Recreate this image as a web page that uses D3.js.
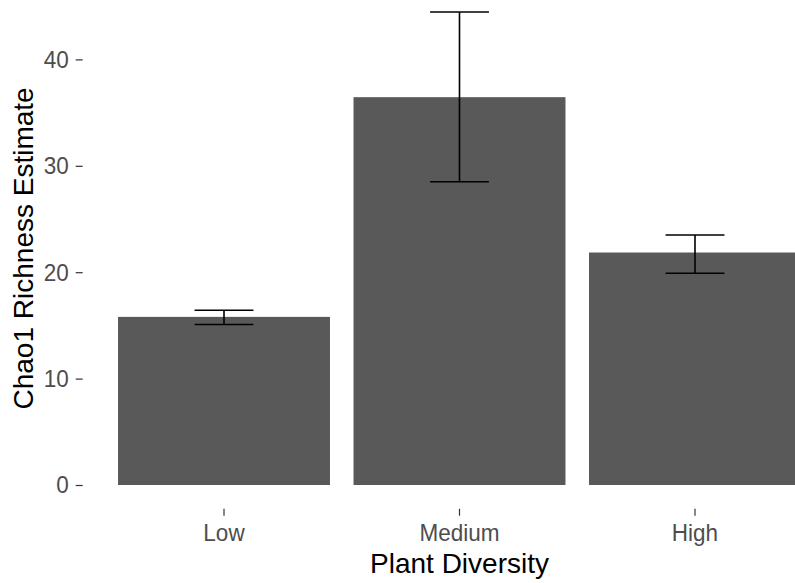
<!DOCTYPE html>
<html>
<head>
<meta charset="utf-8">
<script src="https://cdn.jsdelivr.net/npm/d3@7"></script>
<style>
  html, body { margin: 0; padding: 0; background: #fff; }
  svg { display: block; font-family: "Liberation Sans", Arial, sans-serif; }
</style>
</head>
<body>
<svg id="chart" width="795" height="583"></svg>
<script>
const categories = ["Low", "Medium", "High"];
const means = [15.8, 36.45, 21.85];
const lower = [15.08, 28.5, 19.9];
const upper = [16.42, 44.45, 23.5];
const yTicks = [0, 10, 20, 30, 40];
const xTitle = "Plant Diversity";
const yTitle = "Chao1 Richness Estimate";

const svg = d3.select("#chart");

const x = d3.scaleBand()
  .domain(categories)
  .range([82.7, 836.3])
  .paddingInner(0.1)
  .paddingOuter(0.15);

const y = d3.scaleLinear()
  .domain([0, 40])
  .range([485, 59.4]);

const panelBottom = y(-2.23);

const data = categories.map((c, i) => ({ c, m: means[i], lo: lower[i], hi: upper[i] }));

// bars
svg.append("g").selectAll("rect")
  .data(data).join("rect")
  .attr("x", d => x(d.c))
  .attr("width", x.bandwidth())
  .attr("y", d => y(d.m))
  .attr("height", d => y(0) - y(d.m))
  .attr("fill", "#595959");

// error bars
const capW = x.step() * 0.25;
const eb = svg.append("g").attr("stroke", "#000").attr("stroke-width", 1.6).attr("fill", "none");
data.forEach(d => {
  const cx = x(d.c) + x.bandwidth() / 2;
  eb.append("line").attr("x1", cx).attr("x2", cx).attr("y1", y(d.hi)).attr("y2", y(d.lo));
  eb.append("line").attr("x1", cx - capW / 2).attr("x2", cx + capW / 2).attr("y1", y(d.hi)).attr("y2", y(d.hi));
  eb.append("line").attr("x1", cx - capW / 2).attr("x2", cx + capW / 2).attr("y1", y(d.lo)).attr("y2", y(d.lo));
});

function narrow(sel, baseSize, bigSize) {
  sel.attr("font-size", baseSize).each(function () {
    const w = this.getComputedTextLength();
    d3.select(this).attr("font-size", bigSize)
      .attr("textLength", w).attr("lengthAdjust", "spacingAndGlyphs");
  });
}

// y axis
const yAxis = d3.axisLeft(y).tickValues(yTicks).tickSize(7).tickPadding(7);
const gy = svg.append("g").attr("transform", `translate(${x.range()[0]},0)`).call(yAxis);
gy.select(".domain").remove();
gy.selectAll(".tick line").attr("stroke", "#333").attr("stroke-width", 1.2);
gy.selectAll(".tick text").attr("fill", "#4d4d4d")
  .attr("font-family", "'Liberation Sans', Arial, sans-serif");
narrow(gy.selectAll(".tick text"), 22.5, 24.5);

// x axis
const xAxis = d3.axisBottom(x).tickSize(7).tickPadding(8);
const gx = svg.append("g").attr("transform", `translate(0,${panelBottom})`).call(xAxis);
gx.select(".domain").remove();
gx.selectAll(".tick line").attr("stroke", "#333").attr("stroke-width", 1.2);
gx.selectAll(".tick text").attr("fill", "#4d4d4d")
  .attr("font-family", "'Liberation Sans', Arial, sans-serif");
narrow(gx.selectAll(".tick text"), 22.5, 24.5);

// titles
svg.append("text")
  .attr("x", (x.range()[0] + x.range()[1]) / 2)
  .attr("y", 573)
  .attr("text-anchor", "middle")
  .attr("font-size", 28)
  .attr("fill", "#000")
  .text(xTitle);

svg.append("text")
  .attr("transform", `translate(33,${(y(-2.23) + y(46.7)) / 2}) rotate(-90)`)
  .attr("text-anchor", "middle")
  .attr("font-size", 28)
  .attr("fill", "#000")
  .text(yTitle);
</script>
</body>
</html>
